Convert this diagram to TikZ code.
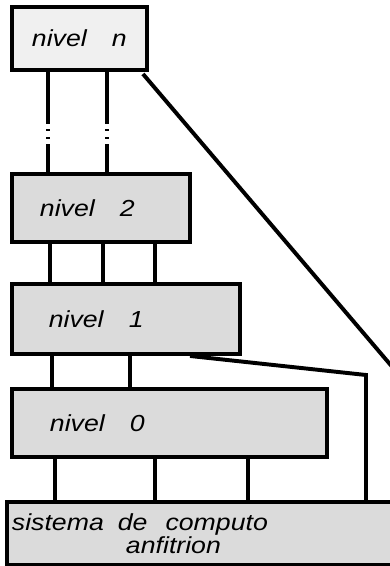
\documentclass[tikz,border=0pt]{standalone}
\usepackage{fontspec}
\usepackage{xcolor}
\newfontfamily\nivelfont[FakeStretch=1.15]{Liberation Sans}
\usetikzlibrary{positioning,calc}

\newcommand{\nivel}[1]{\makebox[2cm][l]{nivel}#1}

\tikzset{
  capa/.style={draw,line width=2.8pt,fill=black!14,anchor=north west,align=left,
    inner ysep=0pt,font=\nivelfont\itshape\fontsize{16.5}{15}\selectfont},
  enlace/.style={line width=2.8pt}
}

\begin{document}
\begin{tikzpicture}[x=0.025cm,y=-0.025cm]
\useasboundingbox (0,0) rectangle (389,566);

% levels of the machine
\node[capa,fill=black!6,text width=2.375cm,inner xsep=0.5cm,minimum height=1.575cm] (nivn) at (10,5) {\nivel{n}};
\node[capa,text width=3.05cm,inner xsep=0.7cm,minimum height=1.7cm] (niv2) at (10,172) {\nivel{2}};
\node[capa,text width=3.86cm,inner xsep=0.92cm,minimum height=1.75cm] (niv1) at (10,282) {\nivel{1}};
\node[capa,text width=5.975cm,inner xsep=0.95cm,minimum height=1.7cm] (niv0) at (10,387) {\nivel{0}};
\node[capa,text width=9.875cm,inner xsep=0.125cm,minimum height=1.575cm] (host) at (5,500)
  {sistema\hspace{0.35cm}de\hspace{0.45cm}computo\\\hspace*{2.85cm}anfitrion};

% links between neighbouring levels
\foreach \x in {48,107}
  \draw[enlace,dash pattern=on 37pt off 3.6pt on 1.4pt off 4.3pt on 1.4pt off 3.6pt on 40pt]
    (nivn.south -| \x,0) -- (niv2.north -| \x,0);
\foreach \x in {50,103,155}
  \draw[enlace] (niv2.south -| \x,0) -- (niv1.north -| \x,0);
\foreach \x in {52,130}
  \draw[enlace] (niv1.south -| \x,0) -- (niv0.north -| \x,0);
\foreach \x in {55,155,248}
  \draw[enlace] (niv0.south -| \x,0) -- (host.north -| \x,0);

% direct links down to the host
\coordinate (esquina) at (366,375);
\draw[enlace] ($(niv1.south west)+(180,0)$) -- (esquina) -- (esquina |- host.north);
\coordinate (rodeo) at (400,376);
\draw[enlace] ($(nivn.south east)+(-6,2)$) -- (rodeo) -- (rodeo |- host.north);
\end{tikzpicture}
\end{document}
